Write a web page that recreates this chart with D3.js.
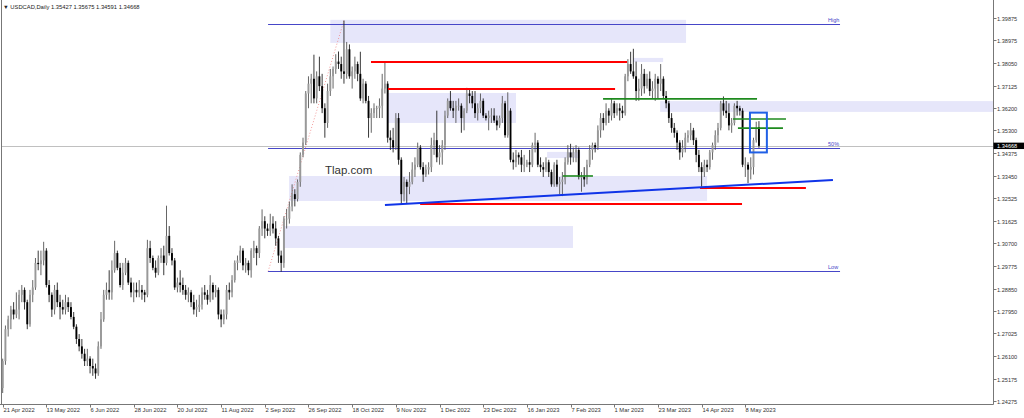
<!DOCTYPE html>
<html><head><meta charset="utf-8">
<script src="https://cdn.jsdelivr.net/npm/d3@7/dist/d3.min.js"></script>
<style>html,body{margin:0;padding:0;background:#fff;overflow:hidden}text{font-family:"Liberation Sans",Arial,sans-serif}</style>
</head><body>
<svg id="c" width="1024" height="418"></svg>
<script>
// ---------- DATA ----------
const symbol = "USDCAD,Daily";
const firstDate = "2022-04-21";
// each row: [open, high, low, close], one row per trading day
const apr2022 = [[1.2480,1.2600,1.2460,1.2590],[1.2590,1.2735,1.2575,1.2720],[1.2720,1.2775,1.2690,1.2760],[1.2760,1.2815,1.2720,1.2800],[1.2800,1.2830,1.2760,1.2780],[1.2780,1.2870,1.2765,1.2800],[1.2800,1.2880,1.2760,1.2860]];
const may2022 = [[1.2860,1.2900,1.2830,1.2880],[1.2880,1.2890,1.2800,1.2830],[1.2830,1.2840,1.2720,1.2740],[1.2740,1.2880,1.2730,1.2860],[1.2860,1.2920,1.2830,1.2890],[1.2890,1.3010,1.2880,1.2990],[1.2990,1.3040,1.2960,1.2985],[1.2985,1.3040,1.2940,1.3000],[1.3000,1.3076,1.2980,1.3040],[1.3040,1.3050,1.2890,1.2900],[1.2900,1.2920,1.2830,1.2860],[1.2860,1.2870,1.2770,1.2800],[1.2800,1.2900,1.2780,1.2880],[1.2880,1.2910,1.2810,1.2830],[1.2830,1.2860,1.2760,1.2810],[1.2810,1.2840,1.2780,1.2800],[1.2800,1.2860,1.2780,1.2830],[1.2830,1.2850,1.2790,1.2810],[1.2810,1.2830,1.2760,1.2770],[1.2770,1.2790,1.2720,1.2730],[1.2730,1.2740,1.2660,1.2680],[1.2680,1.2700,1.2630,1.2650]];
const jun2022 = [[1.2650,1.2680,1.2600,1.2620],[1.2620,1.2640,1.2570,1.2590],[1.2590,1.2640,1.2570,1.2600],[1.2600,1.2610,1.2540,1.2570],[1.2570,1.2600,1.2530,1.2560],[1.2560,1.2580,1.2518,1.2540],[1.2540,1.2670,1.2530,1.2650],[1.2650,1.2790,1.2640,1.2760],[1.2760,1.2880,1.2750,1.2860],[1.2860,1.2910,1.2840,1.2880],[1.2880,1.2960,1.2840,1.2870],[1.2870,1.3000,1.2840,1.2960],[1.2960,1.3080,1.2950,1.3030],[1.3030,1.3040,1.2960,1.2970],[1.2970,1.2990,1.2890,1.2900],[1.2900,1.2990,1.2880,1.2950],[1.2950,1.3010,1.2940,1.2990],[1.2990,1.3000,1.2900,1.2910],[1.2910,1.2930,1.2850,1.2870],[1.2870,1.2910,1.2830,1.2880],[1.2880,1.2910,1.2850,1.2870],[1.2870,1.2920,1.2850,1.2880]];
const jul2022 = [[1.2880,1.2900,1.2840,1.2870],[1.2870,1.2880,1.2830,1.2860],[1.2860,1.3084,1.2850,1.3050],[1.3050,1.3080,1.2990,1.3010],[1.3010,1.3020,1.2960,1.2970],[1.2970,1.3000,1.2930,1.2950],[1.2950,1.3020,1.2940,1.3010],[1.3010,1.3050,1.2990,1.3020],[1.3020,1.3060,1.2940,1.2990],[1.2990,1.3223,1.2980,1.3100],[1.3100,1.3140,1.3020,1.3030],[1.3030,1.3050,1.2980,1.3000],[1.3000,1.3010,1.2880,1.2890],[1.2890,1.2930,1.2870,1.2910],[1.2910,1.2960,1.2870,1.2900],[1.2900,1.2930,1.2860,1.2880],[1.2880,1.2900,1.2840,1.2860],[1.2860,1.2890,1.2830,1.2870],[1.2870,1.2880,1.2810,1.2830],[1.2830,1.2860,1.2780,1.2800],[1.2800,1.2840,1.2770,1.2810]];
const aug2022 = [[1.2810,1.2860,1.2790,1.2820],[1.2820,1.2890,1.2800,1.2870],[1.2870,1.2900,1.2840,1.2860],[1.2860,1.2880,1.2820,1.2840],[1.2840,1.2940,1.2830,1.2900],[1.2900,1.2910,1.2840,1.2870],[1.2870,1.2900,1.2850,1.2880],[1.2880,1.2890,1.2760,1.2780],[1.2780,1.2800,1.2728,1.2760],[1.2760,1.2800,1.2740,1.2780],[1.2780,1.2900,1.2760,1.2880],[1.2880,1.2910,1.2840,1.2870],[1.2870,1.2940,1.2850,1.2920],[1.2920,1.3000,1.2910,1.2990],[1.2990,1.3020,1.2960,1.3000],[1.3000,1.3060,1.2990,1.3040],[1.3040,1.3050,1.2960,1.2980],[1.2980,1.3010,1.2950,1.2990],[1.2990,1.3000,1.2940,1.2960],[1.2960,1.3050,1.2930,1.3040],[1.3040,1.3080,1.3010,1.3050],[1.3050,1.3060,1.2980,1.3030],[1.3030,1.3140,1.3010,1.3130]];
const sep2022 = [[1.3130,1.3208,1.3100,1.3160],[1.3160,1.3180,1.3090,1.3130],[1.3130,1.3150,1.3100,1.3120],[1.3120,1.3190,1.3100,1.3150],[1.3150,1.3180,1.3110,1.3130],[1.3130,1.3160,1.3060,1.3090],[1.3090,1.3100,1.2990,1.3020],[1.3020,1.3040,1.2954,1.2990],[1.2990,1.3180,1.2970,1.3170],[1.3170,1.3210,1.3130,1.3170],[1.3170,1.3240,1.3150,1.3220],[1.3220,1.3310,1.3200,1.3270],[1.3270,1.3290,1.3220,1.3250],[1.3250,1.3330,1.3240,1.3320],[1.3320,1.3440,1.3300,1.3430],[1.3430,1.3500,1.3420,1.3480],[1.3480,1.3690,1.3470,1.3680],[1.3680,1.3750,1.3620,1.3720],[1.3720,1.3760,1.3640,1.3740],[1.3740,1.3838,1.3640,1.3660],[1.3660,1.3770,1.3640,1.3750],[1.3750,1.3830,1.3690,1.3710]];
const oct2022 = [[1.3710,1.3760,1.3600,1.3620],[1.3620,1.3640,1.3500,1.3560],[1.3560,1.3720,1.3540,1.3690],[1.3690,1.3780,1.3670,1.3750],[1.3750,1.3790,1.3700,1.3780],[1.3780,1.3840,1.3760,1.3810],[1.3810,1.3851,1.3780,1.3800],[1.3800,1.3830,1.3740,1.3770],[1.3770,1.3977,1.3720,1.3760],[1.3760,1.3890,1.3740,1.3860],[1.3860,1.3880,1.3740,1.3750],[1.3750,1.3790,1.3700,1.3770],[1.3770,1.3830,1.3740,1.3800],[1.3800,1.3810,1.3730,1.3760],[1.3760,1.3850,1.3650,1.3660],[1.3660,1.3740,1.3640,1.3720],[1.3720,1.3730,1.3640,1.3650],[1.3650,1.3670,1.3500,1.3580],[1.3580,1.3620,1.3520,1.3600],[1.3600,1.3640,1.3580,1.3620],[1.3620,1.3630,1.3580,1.3620]];
const nov2022 = [[1.3620,1.3660,1.3580,1.3630],[1.3630,1.3760,1.3580,1.3700],[1.3700,1.3808,1.3680,1.3720],[1.3720,1.3730,1.3480,1.3500],[1.3500,1.3530,1.3450,1.3490],[1.3490,1.3540,1.3440,1.3460],[1.3460,1.3600,1.3450,1.3580],[1.3580,1.3600,1.3390,1.3410],[1.3410,1.3420,1.3226,1.3270],[1.3270,1.3340,1.3240,1.3320],[1.3320,1.3330,1.3230,1.3300],[1.3300,1.3360,1.3270,1.3320],[1.3320,1.3400,1.3310,1.3370],[1.3370,1.3420,1.3340,1.3390],[1.3390,1.3480,1.3380,1.3460],[1.3460,1.3470,1.3370,1.3380],[1.3380,1.3400,1.3320,1.3350],[1.3350,1.3390,1.3340,1.3370],[1.3370,1.3400,1.3350,1.3380],[1.3380,1.3500,1.3360,1.3470],[1.3470,1.3520,1.3430,1.3490],[1.3490,1.3610,1.3400,1.3420]];
const dec2022 = [[1.3420,1.3470,1.3390,1.3440],[1.3440,1.3490,1.3390,1.3470],[1.3470,1.3610,1.3450,1.3590],[1.3590,1.3660,1.3580,1.3650],[1.3650,1.3690,1.3610,1.3620],[1.3620,1.3650,1.3580,1.3610],[1.3610,1.3650,1.3560,1.3630],[1.3630,1.3660,1.3610,1.3630],[1.3630,1.3640,1.3520,1.3580],[1.3580,1.3620,1.3530,1.3610],[1.3610,1.3703,1.3600,1.3680],[1.3680,1.3700,1.3640,1.3670],[1.3670,1.3690,1.3620,1.3640],[1.3640,1.3690,1.3580,1.3600],[1.3600,1.3640,1.3570,1.3620],[1.3620,1.3680,1.3600,1.3650],[1.3650,1.3660,1.3580,1.3590],[1.3590,1.3600,1.3570,1.3580],[1.3580,1.3610,1.3530,1.3590],[1.3590,1.3620,1.3560,1.3590],[1.3590,1.3620,1.3560,1.3570],[1.3570,1.3590,1.3530,1.3550]];
const jan2023 = [[1.3550,1.3590,1.3540,1.3580],[1.3580,1.3670,1.3560,1.3640],[1.3640,1.3650,1.3500,1.3510],[1.3510,1.3685,1.3500,1.3610],[1.3610,1.3620,1.3400,1.3410],[1.3410,1.3440,1.3370,1.3400],[1.3400,1.3450,1.3380,1.3430],[1.3430,1.3440,1.3390,1.3420],[1.3420,1.3450,1.3360,1.3390],[1.3390,1.3430,1.3360,1.3390],[1.3390,1.3410,1.3380,1.3400],[1.3400,1.3450,1.3360,1.3390],[1.3390,1.3480,1.3380,1.3470],[1.3470,1.3520,1.3440,1.3480],[1.3480,1.3490,1.3380,1.3390],[1.3390,1.3420,1.3360,1.3380],[1.3380,1.3400,1.3340,1.3370],[1.3370,1.3420,1.3360,1.3400],[1.3400,1.3410,1.3340,1.3360],[1.3360,1.3370,1.3300,1.3310],[1.3310,1.3400,1.3300,1.3390],[1.3390,1.3410,1.3300,1.3310]];
const feb2023 = [[1.3310,1.3340,1.3270,1.3320],[1.3320,1.3360,1.3262,1.3330],[1.3330,1.3420,1.3310,1.3400],[1.3400,1.3470,1.3390,1.3440],[1.3440,1.3475,1.3390,1.3420],[1.3420,1.3460,1.3400,1.3440],[1.3440,1.3470,1.3400,1.3450],[1.3450,1.3460,1.3330,1.3340],[1.3340,1.3360,1.3280,1.3340],[1.3340,1.3380,1.3300,1.3330],[1.3330,1.3410,1.3310,1.3390],[1.3390,1.3470,1.3380,1.3450],[1.3450,1.3480,1.3410,1.3470],[1.3470,1.3480,1.3440,1.3460],[1.3460,1.3550,1.3450,1.3530],[1.3530,1.3600,1.3500,1.3580],[1.3580,1.3600,1.3530,1.3560],[1.3560,1.3640,1.3550,1.3610],[1.3610,1.3620,1.3560,1.3590],[1.3590,1.3660,1.3570,1.3640]];
const mar2023 = [[1.3640,1.3650,1.3580,1.3600],[1.3600,1.3640,1.3590,1.3620],[1.3620,1.3640,1.3570,1.3610],[1.3610,1.3630,1.3580,1.3600],[1.3600,1.3760,1.3590,1.3750],[1.3750,1.3820,1.3730,1.3800],[1.3800,1.3850,1.3760,1.3770],[1.3770,1.3862,1.3740,1.3750],[1.3750,1.3810,1.3650,1.3690],[1.3690,1.3740,1.3650,1.3700],[1.3700,1.3800,1.3670,1.3760],[1.3760,1.3780,1.3680,1.3710],[1.3710,1.3760,1.3700,1.3740],[1.3740,1.3770,1.3670,1.3690],[1.3690,1.3730,1.3660,1.3700],[1.3700,1.3760,1.3650,1.3740],[1.3740,1.3750,1.3660,1.3720],[1.3720,1.3800,1.3690,1.3740],[1.3740,1.3750,1.3660,1.3670],[1.3670,1.3690,1.3620,1.3640],[1.3640,1.3650,1.3560,1.3580],[1.3580,1.3600,1.3520,1.3540],[1.3540,1.3560,1.3500,1.3520]];
const apr2023 = [[1.3520,1.3530,1.3450,1.3480],[1.3480,1.3490,1.3410,1.3440],[1.3440,1.3490,1.3420,1.3460],[1.3460,1.3520,1.3440,1.3500],[1.3500,1.3530,1.3480,1.3510],[1.3510,1.3560,1.3490,1.3530],[1.3530,1.3540,1.3470,1.3490],[1.3490,1.3500,1.3400,1.3430],[1.3430,1.3450,1.3360,1.3380],[1.3380,1.3400,1.3300,1.3360],[1.3360,1.3410,1.3340,1.3390],[1.3390,1.3410,1.3360,1.3380],[1.3380,1.3450,1.3370,1.3440],[1.3440,1.3480,1.3410,1.3470],[1.3470,1.3530,1.3450,1.3510],[1.3510,1.3560,1.3480,1.3540],[1.3540,1.3650,1.3530,1.3640],[1.3640,1.3668,1.3590,1.3610],[1.3610,1.3650,1.3580,1.3600],[1.3600,1.3640,1.3530,1.3550]];
const may2023 = [[1.3550,1.3580,1.3520,1.3560],[1.3560,1.3640,1.3550,1.3630],[1.3630,1.3650,1.3590,1.3620],[1.3620,1.3630,1.3590,1.3610],[1.3610,1.3620,1.3380,1.3390],[1.3390,1.3420,1.3340,1.3390],[1.3390,1.3400,1.3315,1.3370],[1.3370,1.3420,1.3330,1.3380],[1.3380,1.3500,1.3350,1.3490],[1.3490,1.3565,1.3480,1.3540],[1.35427,1.35675,1.34591,1.34668]];

const yTickLabels = ["1.39875","1.38975","1.38050","1.37125","1.36200","1.35300","1.34375","1.33450","1.32525","1.31625","1.30700","1.29775","1.28850","1.27950","1.27025","1.26100","1.25175","1.24275"];
const xTickLabels = ["21 Apr 2022","13 May 2022","6 Jun 2022","28 Jun 2022","20 Jul 2022","11 Aug 2022","2 Sep 2022","26 Sep 2022","18 Oct 2022","9 Nov 2022","1 Dec 2022","23 Dec 2022","16 Jan 2023","7 Feb 2023","1 Mar 2023","23 Mar 2023","14 Apr 2023","8 May 2023"];

// analysis objects, in [bar index, price] terms
const zones = [[120,250.3,1.3980,1.3886],[141.1,188.0,1.3682,1.3560],[230.9,241.9,1.3825,1.3808],[240.8,400,1.3649,1.3605],[104.9,258.0,1.3344,1.3242],[102.7,208.9,1.3140,1.3051],[199.4,211.5,1.3442,1.3417]];
const fibLevels = [["High",1.3963],["50%",1.3459],["Low",1.2955]];
const fibSpan = [97.2, 306.7];
const fibDiagonal = [[97.2,1.2955],[125,1.3977]];
const redLines = [[134.9,228.7,1.3808],[141.1,224.3,1.3698],[152.9,270.8,1.3230],[255.4,294.2,1.3295]];
const greenLines = [[219.9,276.3,1.3658],[267.5,286.9,1.3576],[269.3,285.8,1.3539],[205.2,216.2,1.3344]];
const trendLine = [[140.0,1.3226],[304.1,1.3328]];
const focusBox = [273.7,279.9,1.3602,1.3440];
const watermark = "Tlap.com";

// ---------- BUILD ----------
const bars = [].concat(apr2022,may2022,jun2022,jul2022,aug2022,sep2022,oct2022,nov2022,dec2022,jan2023,feb2023,mar2023,apr2023,may2023)
  .map(r => ({o:r[0],h:r[1],l:r[2],c:r[3]}));
const parse = d3.timeParse("%Y-%m-%d");
let d = parse(firstDate);
bars.forEach(b => { while (d.getDay()===0||d.getDay()===6) d = d3.timeDay.offset(d,1); b.date = d; d = d3.timeDay.offset(d,1); });
const fmt = d3.timeFormat("%-d %b %Y");
bars.forEach((b,i)=>{b.i=i; b.label=fmt(b.date);});

const W=1024,H=418, plotR=993.5, plotB=404.5;
const x = d3.scaleLinear().domain([0,272]).range([2.7,745.3]);
const y = d3.scaleLinear().domain([1.24275,1.39875]).range([401,18]);
const yc = p => Math.round(y(p)) + 0.5;  // crisp horizontal lines

const svg = d3.select("#c");
svg.append("rect").attr("width",W).attr("height",H).attr("fill","#fff");
svg.append("defs").append("clipPath").attr("id","plot").append("rect").attr("x",1).attr("y",0).attr("width",plotR-1).attr("height",plotB);
const g = svg.append("g").attr("clip-path","url(#plot)");

g.selectAll(".zone").data(zones).join("rect")
  .attr("x",z=>x(z[0])).attr("width",z=>x(z[1])-x(z[0]))
  .attr("y",z=>y(z[2])).attr("height",z=>y(z[3])-y(z[2]))
  .attr("fill","#e6e6fa");

const last = bars[bars.length-1];
g.append("line").attr("x1",0).attr("x2",plotR).attr("y1",yc(last.c)).attr("y2",yc(last.c)).attr("stroke","#c0c0c0").attr("stroke-width",1);

g.append("line").attr("x1",x(fibDiagonal[0][0])).attr("y1",y(fibDiagonal[0][1])).attr("x2",x(fibDiagonal[1][0])).attr("y2",y(fibDiagonal[1][1]))
  .attr("stroke","#f08080").attr("stroke-width",0.8).attr("stroke-dasharray","1,2");
fibLevels.forEach(f=>{
  g.append("line").attr("x1",x(fibSpan[0])).attr("x2",x(fibSpan[1])).attr("y1",yc(f[1])).attr("y2",yc(f[1])).attr("stroke","#4646c8").attr("stroke-width",1);
  g.append("text").attr("x",x(fibSpan[1])-12).attr("y",y(f[1])-2).attr("font-size",5.5).attr("fill","#4646c8").text(f[0]);
});

const cg = g.append("g");
cg.selectAll(".wick").data(bars).join("line")
  .attr("x1",b=>x(b.i)).attr("x2",b=>x(b.i)).attr("y1",b=>y(b.h)).attr("y2",b=>y(b.l))
  .attr("stroke",b=>b.c>=b.o?"#555":"#222").attr("stroke-width",0.9);
cg.selectAll(".body").data(bars).join("rect")
  .attr("x",b=>x(b.i)-0.95).attr("width",1.9)
  .attr("y",b=>y(Math.max(b.o,b.c))).attr("height",b=>Math.max(0.8,Math.abs(y(b.o)-y(b.c))))
  .attr("fill",b=>b.c>=b.o?"#999":"#000");

redLines.forEach(l=>g.append("line").attr("x1",x(l[0])).attr("x2",x(l[1])).attr("y1",y(l[2])).attr("y2",y(l[2])).attr("stroke","#ff0000").attr("stroke-width",2));
greenLines.forEach(l=>g.append("line").attr("x1",x(l[0])).attr("x2",x(l[1])).attr("y1",y(l[2])).attr("y2",y(l[2])).attr("stroke","#1e8a1e").attr("stroke-width",1.6));
g.append("line").attr("x1",x(trendLine[0][0])).attr("y1",y(trendLine[0][1])).attr("x2",x(trendLine[1][0])).attr("y2",y(trendLine[1][1])).attr("stroke","#1034e8").attr("stroke-width",2);
g.append("rect").attr("x",x(focusBox[0])).attr("width",x(focusBox[1])-x(focusBox[0])).attr("y",y(focusBox[2])).attr("height",y(focusBox[3])-y(focusBox[2]))
  .attr("fill","none").attr("stroke","#2060e6").attr("stroke-width",2);

svg.append("text").attr("x",325).attr("y",174).attr("font-size",11.5).attr("fill","#333").text(watermark);

svg.append("line").attr("x1",1.5).attr("x2",1.5).attr("y1",0).attr("y2",plotB).attr("stroke","#777");
svg.append("line").attr("x1",0).attr("x2",plotR).attr("y1",plotB).attr("y2",plotB).attr("stroke","#777");
svg.append("line").attr("x1",plotR).attr("x2",plotR).attr("y1",0).attr("y2",plotB).attr("stroke","#777");

yTickLabels.forEach(t=>{
  const yy = yc(+t);
  svg.append("line").attr("x1",plotR).attr("x2",plotR+3).attr("y1",yy).attr("y2",yy).attr("stroke","#777");
  svg.append("text").attr("x",997).attr("y",yy+2).attr("font-size",5.6).attr("fill","#333").text(t);
});
const cy = y(last.c);
svg.append("rect").attr("x",plotR).attr("y",cy-3.2).attr("width",31).attr("height",6.4).attr("fill","#000");
svg.append("text").attr("x",997).attr("y",cy+2).attr("font-size",5.6).attr("fill","#fff").text(last.c.toFixed(5));

xTickLabels.forEach(t=>{
  const b = bars.find(b=>b.label===t); if(!b) return;
  const xx = Math.round(x(b.i))+0.5;
  svg.append("line").attr("x1",xx).attr("x2",xx).attr("y1",plotB).attr("y2",plotB+3).attr("stroke","#777");
  svg.append("text").attr("x",xx).attr("y",412).attr("font-size",5.8).attr("fill","#333").text(t);
});

const f5 = v=>v.toFixed(5);
svg.append("text").attr("x",3).attr("y",9).attr("font-size",5.8).attr("fill","#222")
  .text("\u25BC " + symbol + " " + [last.o,last.h,last.l,last.c].map(f5).join(" "));
</script>
</body></html>
